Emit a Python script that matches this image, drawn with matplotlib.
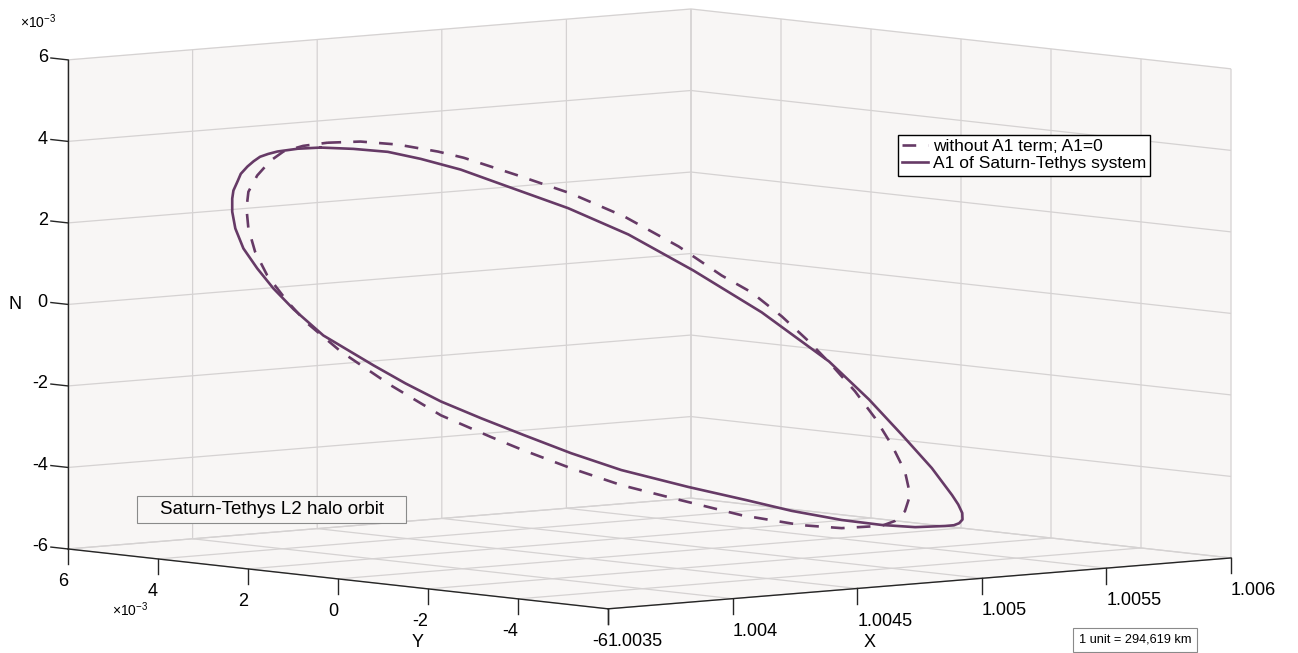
import numpy as np
import matplotlib
matplotlib.use("Agg")
from matplotlib import pyplot as plt
from matplotlib.patches import Rectangle

plt.rcParams["font.family"] = ["Liberation Sans", "DejaVu Sans"]
plt.rcParams["mathtext.fontset"] = "custom"
plt.rcParams["mathtext.rm"] = "Liberation Sans"
plt.rcParams["grid.color"] = "#d5d2d2"
plt.rcParams["grid.linewidth"] = 0.9

W, H = 1298, 653

# halo orbit with the A1 term (x in canonical units, y and z in units of 1e-3)
x_a1 = [1.003921, 1.003995, 1.004072, 1.004146, 1.004236, 1.004349, 1.004478, 1.004613, 1.004760, 1.004913,
        1.005064, 1.005154, 1.005229, 1.005296, 1.005341, 1.005355, 1.005364, 1.005365, 1.005357, 1.005345,
        1.005326, 1.005258, 1.005184, 1.005093, 1.004981, 1.004879, 1.004748, 1.004597, 1.004484, 1.004378,
        1.004282, 1.004191, 1.004112, 1.004040, 1.003927, 1.003860, 1.003815, 1.003779, 1.003747, 1.003729,
        1.003722, 1.003722, 1.003725, 1.003734, 1.003742, 1.003756, 1.003770, 1.003785, 1.003803, 1.003824,
        1.003869]
y_a1 = [2.72, 2.40, 2.06, 1.74, 1.35, 0.86, 0.30, -0.29, -0.92, -1.59,
        -2.25, -2.64, -2.96, -3.25, -3.45, -3.51, -3.55, -3.55, -3.52, -3.47,
        -3.38, -3.09, -2.76, -2.37, -1.88, -1.44, -0.87, -0.22, 0.27, 0.73,
        1.15, 1.54, 1.89, 2.20, 2.69, 2.98, 3.18, 3.34, 3.47, 3.55,
        3.58, 3.58, 3.57, 3.53, 3.50, 3.43, 3.37, 3.31, 3.23, 3.14,
        2.94]
z_a1 = [4.04, 4.01, 3.94, 3.77, 3.51, 3.07, 2.57, 1.93, 1.05, 0.03,
        -1.17, -2.10, -2.97, -3.78, -4.44, -4.67, -4.88, -5.04, -5.13, -5.18,
        -5.20, -5.23, -5.18, -5.06, -4.84, -4.58, -4.26, -3.85, -3.44, -3.00,
        -2.59, -2.18, -1.74, -1.30, -0.57, 0.07, 0.58, 1.07, 1.56, 2.05,
        2.46, 2.78, 2.98, 3.20, 3.39, 3.57, 3.70, 3.81, 3.88, 3.94,
        4.01]

# halo orbit without the A1 term
x_no = [1.003936, 1.004011, 1.004094, 1.004185, 1.004243, 1.004365, 1.004484, 1.004604, 1.004726, 1.004823,
        1.004890, 1.004958, 1.005019, 1.005071, 1.005123, 1.005168, 1.005206, 1.005235, 1.005247, 1.005235,
        1.005213, 1.005184, 1.005093, 1.005003, 1.004935, 1.004868, 1.004710, 1.004597, 1.004484, 1.004372,
        1.004304, 1.004191, 1.004079, 1.003966, 1.003891, 1.003846, 1.003801, 1.003774, 1.003758, 1.003754,
        1.003758, 1.003779, 1.003808, 1.003837, 1.003882]
y_no = [2.65, 2.33, 1.96, 1.57, 1.32, 0.79, 0.27, -0.25, -0.78, -1.20,
        -1.49, -1.79, -2.05, -2.28, -2.50, -2.70, -2.86, -2.99, -3.04, -2.99,
        -2.89, -2.76, -2.37, -1.98, -1.69, -1.39, -0.71, -0.22, 0.27, 0.76,
        1.05, 1.54, 2.03, 2.52, 2.85, 3.04, 3.24, 3.36, 3.42, 3.44,
        3.42, 3.34, 3.21, 3.08, 2.89]
z_no = [4.16, 4.19, 4.12, 3.95, 3.80, 3.37, 2.93, 2.37, 1.64, 0.93,
        0.52, -0.07, -0.68, -1.27, -1.90, -2.56, -3.22, -3.86, -4.44, -4.84,
        -5.08, -5.20, -5.26, -5.19, -5.07, -4.95, -4.53, -4.22, -3.81, -3.35,
        -3.05, -2.52, -1.79, -0.96, -0.27, 0.26, 0.90, 1.48, 2.05, 2.54,
        2.95, 3.35, 3.71, 3.94, 4.08]

x_ticks = [1.0035, 1.004, 1.0045, 1.005, 1.0055, 1.006]
x_tick_labels = ["1.0035", "1.004", "1.0045", "1.005", "1.0055", "1.006"]
yz_ticks = [-6, -4, -2, 0, 2, 4, 6]
yz_tick_labels = ["-6", "-4", "-2", "0", "2", "4", "6"]

labels = ["without A1 term; A1=0", "A1 of Saturn-Tethys system"]
orbit_color = "#663a66"
pane_color = (0.973, 0.965, 0.961, 1.0)
axis_color = "#262626"

e = 1e-3
x0, x1 = x_ticks[0], x_ticks[-1]
lo, hi = yz_ticks[0] * e, yz_ticks[-1] * e

fig = plt.figure(figsize=(W / 100, H / 100), dpi=100)
ax = fig.add_axes([0, 0, 1, 1], projection="3d", proj_type="ortho")
ax.set_xlim(x0, x1)
ax.set_ylim(lo, hi)
ax.set_zlim(lo, hi)
ax.view_init(elev=5.46, azim=-130.64)
ax.set_box_aspect((822.5, 830.6, 492.2))


def proj2d(x, y, z):
    v = ax.get_proj() @ np.array([x, y, z, 1.0])
    return v[0] / v[3], v[1] / v[3]


def label3d(x, y, z, s, **kw):
    # flat text placed at the projected position of a 3d point
    px, py = proj2d(x, y, z)
    ax.text2D(px, py, s, transform=ax.transData, **kw)


# scale and shift the (square) 3d axes so the box lands where we want it on the canvas
vx0, vx1 = ax.viewLim.intervalx
vy0, vy1 = ax.viewLim.intervaly
lx, _ = proj2d(x0, hi, lo)
rx, _ = proj2d(x1, lo, lo)
_, ty = proj2d(x1, hi, hi)
side = (1231 - 68) / ((rx - lx) / (vx1 - vx0))
left = 68 - side * (lx - vx0) / (vx1 - vx0)
bottom = (H - 9) - side * (ty - vy0) / (vy1 - vy0)
ax.set_position([left / W, bottom / H, side / W, side / H])

ax.patch.set_alpha(0)
ax.set_xticks(x_ticks)
ax.set_yticks([t * e for t in yz_ticks])
ax.set_zticks([t * e for t in yz_ticks])
for axis in (ax.xaxis, ax.yaxis, ax.zaxis):
    axis.set_pane_color(pane_color)
    axis.line.set_linewidth(0)
    axis.set_tick_params(colors=(0, 0, 0, 0))
    axis.set_major_formatter(matplotlib.ticker.NullFormatter())
    axis.label.set_visible(False)
    axis.offsetText.set_visible(False)
    for t in axis.get_major_ticks():
        t.label1.set_visible(False)
        t.label2.set_visible(False)

# orbits
l_no, = ax.plot(np.append(x_no, x_no[0]), np.append(y_no, y_no[0]) * e, np.append(z_no, z_no[0]) * e,
                color=orbit_color, lw=1.9, ls=(0, (5.2, 4.6)), dash_joinstyle="round")
l_a1, = ax.plot(np.append(x_a1, x_a1[0]), np.append(y_a1, y_a1[0]) * e, np.append(z_a1, z_a1[0]) * e,
                color=orbit_color, lw=1.9, solid_joinstyle="round")

# axis lines, ticks and tick labels
ax.plot([x0, x0], [hi, hi], [lo, hi], color=axis_color, lw=1.0)
ax.plot([x0, x0], [lo, hi], [lo, lo], color=axis_color, lw=1.0)
ax.plot([x0, x1], [lo, lo], [lo, lo], color=axis_color, lw=1.0)
tick = 0.38 * e
lab_z = lo - 0.8 * e
for t, s in zip(yz_ticks, yz_tick_labels):
    ax.plot([x0, x0], [hi, hi + tick], [t * e, t * e], color=axis_color, lw=1.0)
    label3d(x0, hi + 0.45 * e, t * e, s, ha="right", va="center", fontsize=13)
    ax.plot([x0, x0], [t * e, t * e], [lo, lo - tick], color=axis_color, lw=1.0)
    label3d(x0, t * e, lab_z, s, ha="right", va="center", fontsize=13)
for t, s in zip(x_ticks, x_tick_labels):
    ax.plot([t, t], [lo, lo], [lo, lo - tick], color=axis_color, lw=1.0)
    label3d(t, lo, lab_z, s, ha="left", va="center", fontsize=13)

label3d(x0, hi + 1.18 * e, -0.15 * e, "N", ha="center", va="center", fontsize=13)
label3d(x0, -1.78 * e, lo - 1.35 * e, "Y", ha="center", va="center", fontsize=13)
label3d(1.004548, lo, lo - 1.35 * e, "X", ha="center", va="center", fontsize=13)
label3d(x0, 4.62 * e, lo - 1.32 * e, r"$\mathregular{\times10^{-3}}$", ha="center", va="center", fontsize=10)
fig.text(38 / W, 1 - 22 / H, r"$\mathregular{\times10^{-3}}$", ha="center", va="center", fontsize=10)

fig.legend([l_no, l_a1], labels, loc="upper left", bbox_to_anchor=(898 / W, 1 - 135 / H),
           fontsize=12.5, frameon=True, fancybox=False, framealpha=1, edgecolor="black",
           handlelength=1.45, handletextpad=0.3, labelspacing=0.1, borderpad=0.25, borderaxespad=0)
fig.legends[0].get_frame().set_linewidth(1.0)

# text boxes
fig.add_artist(Rectangle((137 / W, 1 - 523 / H), 269 / W, 27 / H, transform=fig.transFigure,
                         facecolor=pane_color, edgecolor="#8a8a8a", lw=0.8))
fig.text(272 / W, 1 - 509.5 / H, "Saturn-Tethys L2 halo orbit", ha="center", va="center", fontsize=13.5)
fig.add_artist(Rectangle((1073 / W, 1 - 652 / H), 124 / W, 24 / H, transform=fig.transFigure,
                         facecolor="white", edgecolor="#8a8a8a", lw=0.8))
fig.text(1135 / W, 1 - 640 / H, "1 unit = 294,619 km", ha="center", va="center", fontsize=9.2)

fig.savefig("out.png", dpi=100, facecolor="white")
